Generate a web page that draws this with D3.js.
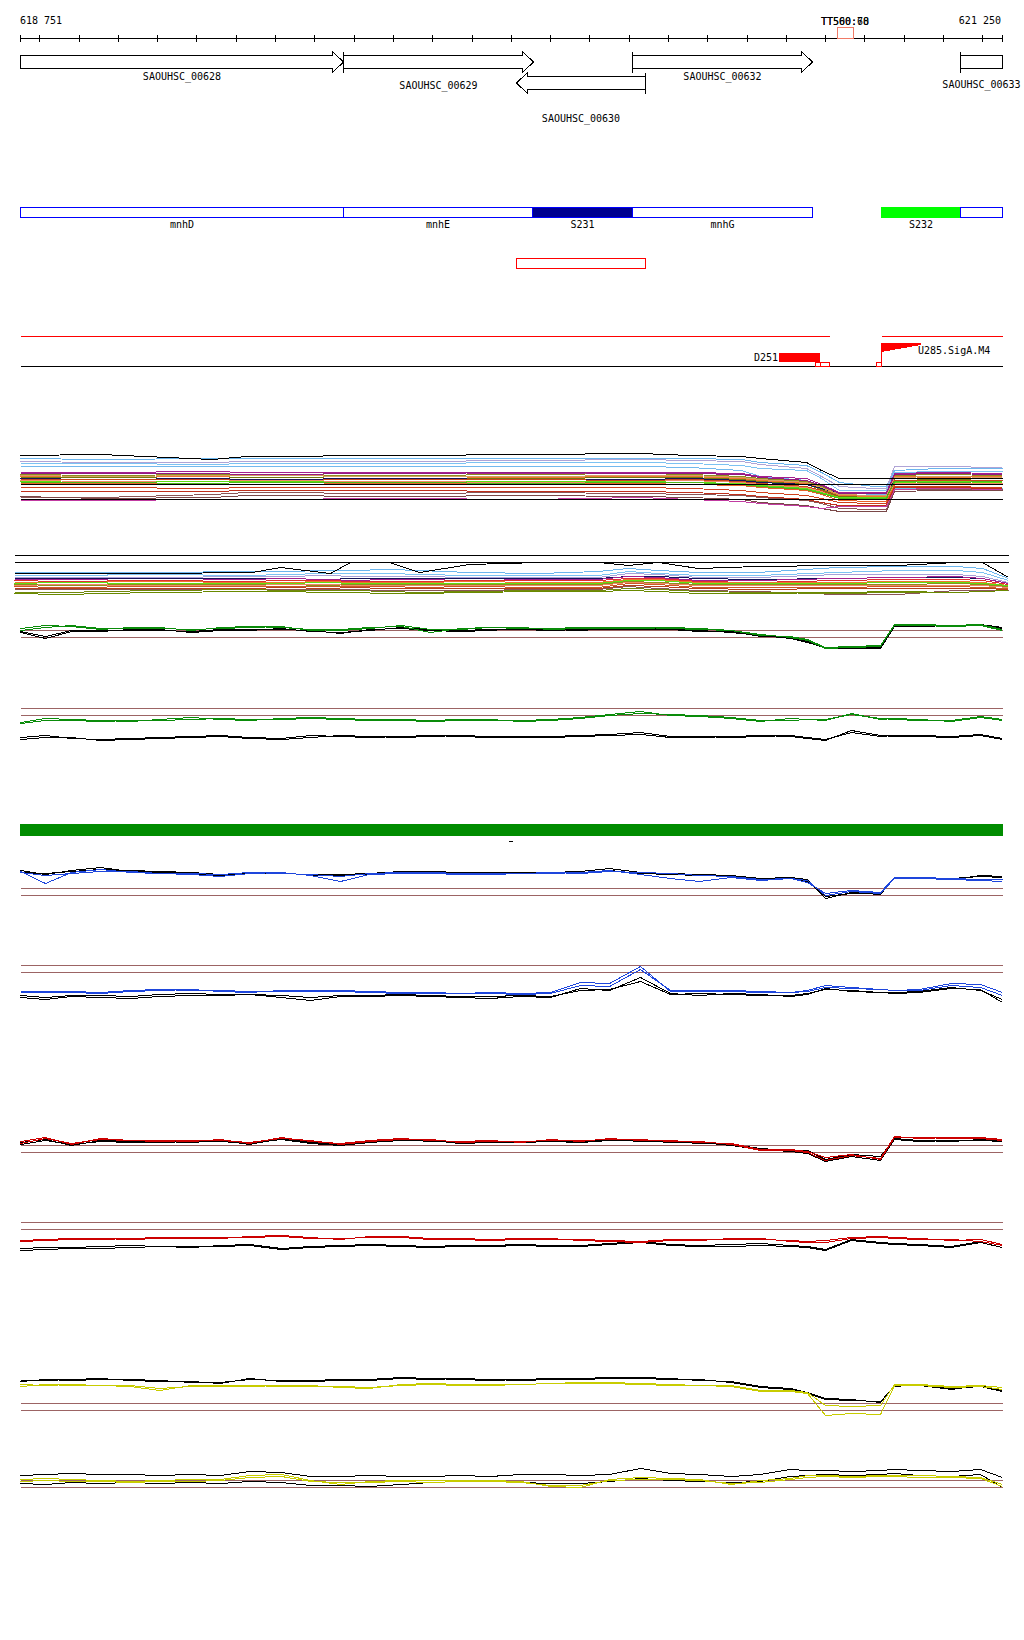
<!DOCTYPE html>
<html>
<head>
<meta charset="utf-8">
<script src="https://cdn.jsdelivr.net/npm/d3@7/dist/d3.min.js"></script>
<style>
body{margin:0;background:#fff;}
svg text{font-family:"DejaVu Sans Mono",monospace;font-size:10px;fill:#000;}
</style>
</head>
<body>
<script>
// ---- region shown
var viewStart = 618751, viewEnd = 621250;
var tickBp = d3.range(618800, 621201, 100);

// ---- genes (top track)
var geneNames  = ["SAOUHSC_00628","SAOUHSC_00629","SAOUHSC_00630","SAOUHSC_00632","SAOUHSC_00633"];
var geneStart  = [618600, 619573, 620013, 620308, 621143];
var geneEnd    = [619573, 620056, 620341, 620767, 621400];
var geneStrand = ["+", "+", "-", "+", "+"];

// ---- named features (blue track)
var featNames = ["mnhD", "mnhE", "S231", "mnhG", "S232", ""];
var featStart = [618600, 619573, 620054, 620308, 620942, 621143];
var featEnd   = [619573, 620054, 620308, 620767, 621143, 621400];

// ---- other annotations
var ttNames = ["TT500:68", "TT560:70"];
var ttRange = [620830, 620871];
var redBox = [620013, 620341];
var redSegments = [[618751, 620810], [620942, 621250]];
var d251 = {name: "D251", start: 620683, end: 620787};
var smallBoxes = [[620774, 620787], [620787, 620810], [620929, 620942]];
var u285 = {name: "U285.SigA.M4", start: 620942, end: 621045};
var dashBp = 620000;

// ---- dense track 1 (18 positions)
var dense1Bp = [618751,618955,619240,619325,619720,620050,620330,620455,620585,620635,620750,620790,620835,620925,620955,620975,621090,621250];
var dense1Values = [
 [57,58,53,56,57,58,59,57,56,54,50,42,34,34,34,34,34,34],
 [54,53,54,54,54,54,54,54,53,50,47,40,30,26,26,42,44,44],
 [51,50,50,51,51,52,53,52,51,48,44,36,26,24,24,46,46,45],
 [49,49,48,49,49,50,50,49,47,44,42,34,22,22,22,40,41,41],
 [46,46,46,46,46,46,46,45,42,36,32,26,16,18,18,24,24,24],
 [40,40,41,40,40,39,40,40,39,36,34,28,20,20,20,39,40,39],
 [38,37,38,38,37,38,39,38,36,34,31,26,18,17,17,37,38,37],
 [36,35,36,35,36,35,36,36,34,32,29,24,17,16,16,36,35,36],
 [35,35,34,35,34,34,35,35,33,31,28,23,16,15,15,34,33,34],
 [34,33,34,33,34,33,33,34,32,30,28,24,19,19,19,32,31,32],
 [33,33,33,32,33,33,32,33,31,29,26,22,15,14,14,32,32,32],
 [32,31,31,32,31,30,31,32,30,28,25,21,14,13,13,29,29,29],
 [31,30,31,31,30,31,31,30,29,27,24,20,15,15,15,30,31,30],
 [29,29,29,30,29,29,29,28,27,25,22,18,12,11,11,28,28,28],
 [25,25,24,25,25,25,25,24,22,20,17,14,10,9,9,26,26,25],
 [21,21,21,22,22,21,21,20,18,16,13,10,7,7,7,25,25,24],
 [15,15,18,20,19,20,19,18,17,15,12,9,4,3,3,23,23,23],
 [16,14,15,17,16,17,16,15,13,10,7,4,1,1,1,21,22,22],
 [12,12,13,13,14,13,15,13,11,9,6,4,6,6,6,23,24,23],
 [37,36,37,37,36,36,37,37,35,33,30,25,18,17,17,35,36,35],
 [30,30,29,30,30,29,30,30,28,26,23,19,14,14,14,31,30,31],
 [39,39,39,38,39,40,39,39,38,35,32,27,19,19,19,38,39,38]
];
var dense1Refs = [28, 13];

// ---- dense track 2 (21 positions)
var dense2Bp = [618751,618870,619100,619350,619420,619545,619595,619695,619770,619895,620070,620220,620295,620370,620470,620620,620820,620970,621120,621185,621250];
var dense2Values = [
 [27,27,27,28,33,27,38,38,28,36,38,38,35,38,32,34,35,35,38,38,23],
 [28,28,28,29,29,30,30,31,30,28,27,29,32,30,28,28,33,34,34,32,22],
 [25,25,26,25,26,27,27,27,26,25,25,25,29,27,25,25,28,30,30,28,20],
 [23,23,23,24,24,25,24,24,24,23,23,23,27,26,23,23,26,26,26,24,18],
 [22,22,22,22,22,21,22,22,22,22,22,22,24,24,22,21,22,23,23,22,17],
 [21,21,20,21,22,21,20,21,21,20,21,21,24,23,20,20,22,23,24,22,17],
 [20,19,20,19,20,20,19,19,19,20,20,20,22,22,19,18,20,21,21,20,16],
 [18,18,19,18,18,19,18,18,18,19,18,18,21,21,18,18,18,19,19,18,15],
 [17,18,17,17,17,18,17,17,17,17,17,17,20,20,17,17,17,18,18,17,15],
 [16,15,16,16,16,15,16,16,16,16,16,16,19,18,16,16,16,16,17,16,14],
 [15,16,15,15,16,16,15,15,15,15,15,15,18,17,15,15,15,15,15,15,13],
 [14,13,14,14,14,14,14,14,13,14,13,13,17,16,13,13,13,14,14,13,12],
 [12,12,12,12,13,12,13,12,12,12,12,12,15,14,12,11,12,12,12,12,11],
 [11,11,11,11,11,11,11,10,10,10,11,11,14,12,10,9,6,6,10,10,10],
 [8,8,10,11,10,10,10,9,8,9,10,10,12,11,9,8,7,8,8,9,10],
 [7,6,8,9,9,8,8,7,7,8,9,9,10,9,7,7,8,9,8,9,10]
];
var dense2Refs = [45, 38];

// ---- profile tracks (36 positions)
var profileBp = [618751,618815,618880,618955,619030,619105,619185,619260,619335,619415,619490,619565,619640,619720,619795,619870,619945,620025,620100,620175,620250,620330,620405,620480,620560,620635,620710,620755,620800,620865,620940,620975,621040,621120,621195,621250];

var p3GreenA = [32,35,34,31,33,32,31,32,33,34,30,31,33,34,28,32,33,32,32,33,32,33,32,31,30,25,24,21,13,14,15,36,35,34,35,30];
var p3GreenB = [30,33,35,32,32,33,30,33,34,33,31,30,32,35,31,31,33,33,31,32,33,32,33,32,30,26,23,20,12,13,14,35,36,35,36,31];
var p3BlackA = [29,24,30,29,31,30,29,31,30,32,29,28,30,33,31,30,31,31,30,31,31,32,31,29,29,24,23,19,12,12,13,35,34,35,36,33];
var p3BlackB = [28,22,29,30,30,31,28,30,31,31,30,27,31,32,30,29,30,32,31,30,32,31,31,30,28,25,22,18,13,12,12,34,35,34,35,32];

var p4GreenA = [28,32,31,30,29,31,33,31,30,32,33,32,31,31,30,31,30,30,31,33,36,39,35,34,32,29,32,31,30,37,31,32,31,29,33,30];
var p4GreenB = [27,30,30,29,30,30,31,32,31,31,32,31,30,30,29,30,31,29,30,32,35,37,36,35,33,30,30,31,31,36,32,31,30,30,34,31];
var p4BlackA = [13,15,12,11,12,13,14,15,13,12,15,14,13,14,15,14,13,13,14,15,16,18,14,13,14,15,14,12,10,20,15,14,15,14,16,12];
var p4BlackB = [11,13,13,10,11,12,13,14,12,11,13,15,14,13,14,15,14,14,13,14,15,16,13,14,13,14,15,13,11,18,14,15,14,13,15,11];

var b1BlueA  = [34,22,33,36,33,32,31,29,32,33,30,24,31,32,32,31,31,32,32,33,35,31,27,24,28,25,27,23,12,15,13,28,27,26,25,24];
var b1BlueB  = [33,30,32,34,34,32,32,31,33,32,31,29,32,33,33,32,32,32,33,32,34,33,32,30,29,26,27,25,10,14,12,27,28,27,26,26];
var b1BlackA = [35,31,35,38,34,33,32,30,33,33,30,31,32,34,34,33,32,32,33,34,37,33,32,31,30,27,28,26,7,13,11,28,27,26,30,29];
var b1BlackB = [33,32,34,36,35,34,33,31,32,32,31,30,31,33,33,32,33,33,32,33,35,32,31,30,29,26,27,24,9,12,12,27,28,27,29,28];

var b2BlueA  = [13,13,13,12,14,15,16,14,13,15,14,14,13,12,12,12,12,11,12,20,19,36,15,14,14,13,13,15,20,18,16,15,15,20,18,10];
var b2BlueB  = [14,14,14,13,15,16,15,15,14,14,15,15,14,13,13,12,13,12,13,23,22,39,14,15,15,14,13,14,18,17,16,15,16,22,21,13];
var b2BlackA = [8,6,9,8,7,9,10,10,11,8,5,9,9,10,9,8,7,9,8,17,15,28,12,10,12,11,9,11,17,14,13,12,13,17,16,3];
var b2BlackB = [10,8,10,10,9,11,12,11,11,10,8,10,10,11,10,9,9,10,9,15,16,24,11,12,11,10,10,12,16,15,13,13,14,18,15,6];

var r1RedA   = [24,28,21,27,25,25,24,26,22,28,24,22,25,27,25,24,25,23,26,24,27,25,25,23,22,16,16,14,8,11,6,28,28,27,28,26];
var r1RedB   = [22,27,22,26,25,24,25,25,23,27,25,21,24,26,26,23,24,24,25,25,26,26,24,24,21,15,15,13,5,10,7,29,27,28,27,25];
var r1BlackA = [23,26,20,25,24,24,23,25,21,27,23,21,24,26,24,23,24,23,25,24,26,24,24,22,21,17,15,15,6,11,9,27,25,24,26,25];
var r1BlackB = [21,25,21,24,23,23,24,24,22,26,22,20,23,25,25,22,23,23,24,23,25,25,23,23,20,16,14,12,4,9,5,26,24,25,25,24];

var r2RedA   = [20,21,22,21,22,23,23,22,24,25,23,21,24,24,22,22,21,22,21,21,20,19,21,20,22,21,20,19,20,23,24,23,22,20,21,16];
var r2RedB   = [19,20,21,22,21,22,22,23,23,24,22,22,23,23,21,21,20,21,22,20,19,18,20,21,21,22,19,18,18,22,23,22,21,21,19,15];
var r2BlackA = [12,13,13,14,15,14,13,15,16,12,14,15,16,15,14,15,15,16,15,15,17,19,16,15,16,17,15,14,11,21,18,17,16,14,19,15];
var r2BlackB = [10,11,12,12,13,14,14,14,15,11,13,14,15,14,13,14,14,15,14,14,16,18,15,14,14,15,14,13,10,20,17,16,15,13,18,13];

var y1YellowA = [36,35,36,35,34,30,35,34,35,34,35,33,32,36,37,36,35,36,37,38,38,37,36,35,35,30,30,28,15,14,15,36,36,34,35,33];
var y1YellowB = [34,36,35,35,35,32,34,35,34,35,34,34,33,35,36,35,36,36,37,37,37,36,35,35,34,29,29,27,5,7,6,35,35,33,34,31];
var y1BlackA  = [40,40,41,42,40,39,39,37,42,39,40,41,41,43,42,41,40,41,42,42,43,43,42,40,39,34,32,28,22,21,18,35,35,31,35,30];
var y1BlackB  = [39,41,40,41,41,40,38,38,41,40,39,40,40,42,41,42,41,40,41,41,42,42,41,41,38,33,31,27,21,20,19,34,36,32,34,29];

var y2YellowA = [16,17,16,15,14,15,16,16,20,21,15,11,14,15,15,15,15,14,9,8,16,18,17,16,11,15,17,20,20,19,20,20,20,19,18,11];
var y2YellowB = [14,15,14,14,13,14,14,15,18,19,14,13,13,14,13,14,14,13,10,10,15,16,16,15,12,13,16,18,19,18,19,19,18,18,17,9];
var y2BlackA  = [20,21,22,21,21,20,21,20,24,23,19,19,20,19,19,20,19,21,21,20,21,27,22,21,19,21,26,25,25,24,25,26,25,24,26,18];
var y2BlackB  = [12,11,13,12,13,12,13,12,14,13,10,10,9,11,13,14,14,13,12,12,14,17,15,14,13,14,19,20,21,20,21,22,20,19,21,8];

// ---- styles
var dense1Colors = ["#000000","#6cb6ee","#b0a4d6","#7cc2f2","#72b8ee","#a3208e","#8e8e1e","#ee7630","#72780e","#14145a","#c8461e","#f08a66","#5ee012","#e8622a","#d0401c","#c0301c","#8a5656","#7a4848","#c23ca2","#d4a060","#4cb81c","#921a82"];
var dense2Colors = ["#000000","#6cb6ee","#7cc2f2","#a8a0d8","#14145a","#a3208e","#e03030","#ee7630","#5ee012","#8e8e1e","#f08a66","#c85a28","#b8401c","#8a5656","#72880e","#6a8a00"];
var featFill = {S231: "#000090", S232: "#00ff00"};
var refColor = "#9c6464";

function px(v){ return Math.round(v) + 0.5; }

var x = d3.scaleLinear().domain([viewStart, viewEnd]).range([20, 1002]);
var xWide = d3.scaleLinear().domain([viewStart, viewEnd]).range([14, 1008]);

var svg = d3.select("body").append("svg")
	.attr("width", 1024)
	.attr("height", 1640)
	.attr("shape-rendering", "crispEdges")
	.style("background", "#fff");

// ruler
var fmt = d => d3.format(",")(d).replace(",", " ");
svg.append("line")
	.attr("x1", px(x(viewStart))).attr("x2", px(x(viewEnd)))
	.attr("y1", 38.5).attr("y2", 38.5).attr("stroke", "#000");
svg.selectAll("line.tick").data([viewStart].concat(tickBp, [viewEnd])).enter()
	.append("line").attr("class", "tick")
	.attr("x1", d => px(x(d))).attr("x2", d => px(x(d)))
	.attr("y1", 35).attr("y2", 42).attr("stroke", "#000");
svg.append("text").attr("x", 20).attr("y", 24).text(fmt(viewStart));
svg.append("text").attr("x", 1001).attr("y", 24).attr("text-anchor", "end").text(fmt(viewEnd));

// terminator box + labels
svg.append("rect")
	.attr("x", px(x(ttRange[0]))).attr("y", 27.5)
	.attr("width", Math.round(x(ttRange[1]) - x(ttRange[0]))).attr("height", 11)
	.attr("fill", "none").attr("stroke", "#f07a66");
ttNames.forEach(t => {
	svg.append("text").attr("x", (x(ttRange[0]) + x(ttRange[1])) / 2).attr("y", 25)
		.attr("text-anchor", "middle").text(t);
});

// genes
var labelY = [80, 89, 122, 80, 88];
geneNames.forEach((name, i) => {
	var s = geneStart[i], e = geneEnd[i];
	var x0 = px(x(Math.max(s, viewStart))), x1 = px(x(Math.min(e, viewEnd)));
	var fwd = geneStrand[i] == "+";
	var top = fwd ? 55.5 : 76.5, h = 13, hd = 11;
	var p = d3.path();
	if (fwd) {
		var tip = e <= viewEnd;
		p.moveTo(x0, top);
		p.lineTo(tip ? x1 - hd : x1, top);
		if (tip) {
			p.lineTo(x1 - hd, top - 4); p.lineTo(x1, top + h / 2);
			p.lineTo(x1 - hd, top + h + 4); p.lineTo(x1 - hd, top + h);
		} else {
			p.lineTo(x1, top + h);
		}
		p.lineTo(x0, top + h);
		p.closePath();
	} else {
		p.moveTo(x1, top);
		p.lineTo(x0 + hd, top); p.lineTo(x0 + hd, top - 4);
		p.lineTo(x0, top + h / 2); p.lineTo(x0 + hd, top + h + 4);
		p.lineTo(x0 + hd, top + h); p.lineTo(x1, top + h);
		p.closePath();
	}
	svg.append("path").attr("d", p.toString()).attr("fill", "#fff").attr("stroke", "#000");
	// start mark
	var startIn = fwd ? s >= viewStart : e <= viewEnd;
	if (startIn) {
		var sx = fwd ? x0 : x1;
		svg.append("line").attr("x1", sx).attr("x2", sx)
			.attr("y1", top - 4).attr("y2", top + h + 4).attr("stroke", "#000");
	}
	svg.append("text").attr("x", (x0 + x1) / 2).attr("y", labelY[i])
		.attr("text-anchor", "middle").text(name);
});

// feature track
featNames.forEach((name, i) => {
	var x0 = px(x(Math.max(featStart[i], viewStart))), x1 = px(x(Math.min(featEnd[i], viewEnd)));
	var f = featFill[name];
	svg.append("rect").attr("x", x0).attr("y", 207.5)
		.attr("width", x1 - x0).attr("height", 10)
		.attr("fill", f || "none")
		.attr("stroke", name == "S232" ? f : "#0000ff");
	if (name) svg.append("text").attr("x", (x0 + x1) / 2).attr("y", 228)
		.attr("text-anchor", "middle").text(name);
});

// red outlined region
svg.append("rect")
	.attr("x", px(x(redBox[0]))).attr("y", 258.5)
	.attr("width", Math.round(x(redBox[1]) - x(redBox[0]))).attr("height", 10)
	.attr("fill", "none").attr("stroke", "#ff0000");

// promoter / terminator track
redSegments.forEach(sg => {
	svg.append("line").attr("x1", px(x(sg[0]))).attr("x2", px(x(sg[1])))
		.attr("y1", 336.5).attr("y2", 336.5).attr("stroke", "#ff0000");
});
svg.append("line").attr("x1", px(x(viewStart))).attr("x2", px(x(viewEnd)))
	.attr("y1", 366.5).attr("y2", 366.5).attr("stroke", "#000");
svg.append("rect").attr("x", Math.round(x(d251.start))).attr("y", 353)
	.attr("width", Math.round(x(d251.end) - x(d251.start))).attr("height", 9).attr("fill", "#ff0000");
svg.append("text").attr("x", Math.round(x(d251.start)) - 1).attr("y", 361)
	.attr("text-anchor", "end").text(d251.name);
smallBoxes.forEach(b => {
	svg.append("rect").attr("x", px(x(b[0]))).attr("y", 362.5)
		.attr("width", Math.max(4, Math.round(x(b[1]) - x(b[0])))).attr("height", 4)
		.attr("fill", "#fff").attr("stroke", "#ff0000");
});
var ux0 = Math.round(x(u285.start)), ux1 = Math.round(x(u285.end));
svg.append("path")
	.attr("d", "M" + ux0 + ",343L" + ux1 + ",343L" + ux1 + ",345L" + ux0 + ",352Z")
	.attr("fill", "#ff0000");
svg.append("line").attr("x1", ux0 + 0.5).attr("x2", ux0 + 0.5).attr("y1", 343).attr("y2", 366)
	.attr("stroke", "#ff0000");
svg.append("text").attr("x", ux1 - 3).attr("y", 354).text(u285.name);

// dense tracks
function denseTrack(bps, values, colors, refs, xs, y0, y1, dom) {
	var ys = d3.scaleLinear().domain(dom).range([y0, y1]);
	var line = d3.line().x((d, i) => px(xs(bps[i]))).y(d => px(ys(d)));
	var g = svg.append("g");
	values.forEach((v, i) => {
		g.append("path").attr("d", line(v)).attr("fill", "none")
			.attr("stroke", colors[i]).attr("stroke-width", 1);
	});
	refs.forEach(r => {
		g.append("line").attr("x1", px(xs(viewStart))).attr("x2", px(xs(viewEnd)))
			.attr("y1", px(ys(r))).attr("y2", px(ys(r))).attr("stroke", "#000");
	});
	// keep the top black series on top
	g.append("path").attr("d", line(values[0])).attr("fill", "none").attr("stroke", colors[0]);
}
denseTrack(dense1Bp, dense1Values, dense1Colors, dense1Refs, x, 512, 450, [0, 62]);
denseTrack(dense2Bp, dense2Values, dense2Colors, dense2Refs, xWide, 600, 550, [0, 50]);

// profile tracks
var green = "#0a8c0a", blue = "#1e46dc", red = "#cc0000", yellow = "#c8cc00";
var profiles = [
	{bottom: 660, refs: [30, 23], series: [p3BlackA, p3BlackB, p3GreenA, p3GreenB], color: green},
	{bottom: 750, refs: [42, 35], series: [p4BlackA, p4BlackB, p4GreenA, p4GreenB], color: green},
	{bottom: 905, refs: [17, 10], series: [b1BlackA, b1BlackB, b1BlueA, b1BlueB], color: blue},
	{bottom: 1005, refs: [40, 33], series: [b2BlackA, b2BlackB, b2BlueA, b2BlueB], color: blue},
	{bottom: 1165, refs: [20, 13], series: [r1BlackA, r1BlackB, r1RedA, r1RedB], color: red},
	{bottom: 1260, refs: [38, 31], series: [r2BlackA, r2BlackB, r2RedA, r2RedB], color: red},
	{bottom: 1420, refs: [17, 10], series: [y1BlackA, y1BlackB, y1YellowA, y1YellowB], color: yellow},
	{bottom: 1495, refs: [15, 8], series: [y2BlackA, y2BlackB, y2YellowA, y2YellowB], color: yellow}
];
profiles.forEach(pr => {
	var ys = d3.scaleLinear().domain([0, 50]).range([pr.bottom, pr.bottom - 50]);
	var line = d3.line().x((d, i) => px(x(profileBp[i]))).y(d => px(ys(d)));
	pr.refs.forEach(r => {
		svg.append("line").attr("x1", px(x(viewStart))).attr("x2", px(x(viewEnd)))
			.attr("y1", px(ys(r))).attr("y2", px(ys(r))).attr("stroke", refColor);
	});
	pr.series.forEach((s, i) => {
		svg.append("path").attr("d", line(s)).attr("fill", "none")
			.attr("stroke", i < 2 ? "#000" : pr.color);
	});
});

// full-width green feature
svg.append("rect").attr("x", Math.round(x(viewStart))).attr("y", 824)
	.attr("width", Math.round(x(viewEnd) - x(viewStart)) + 1).attr("height", 12).attr("fill", "#008c00");
svg.append("line").attr("x1", Math.round(x(dashBp)) - 2).attr("x2", Math.round(x(dashBp)) + 2)
	.attr("y1", 841.5).attr("y2", 841.5).attr("stroke", "#000");
</script>
</body>
</html>
